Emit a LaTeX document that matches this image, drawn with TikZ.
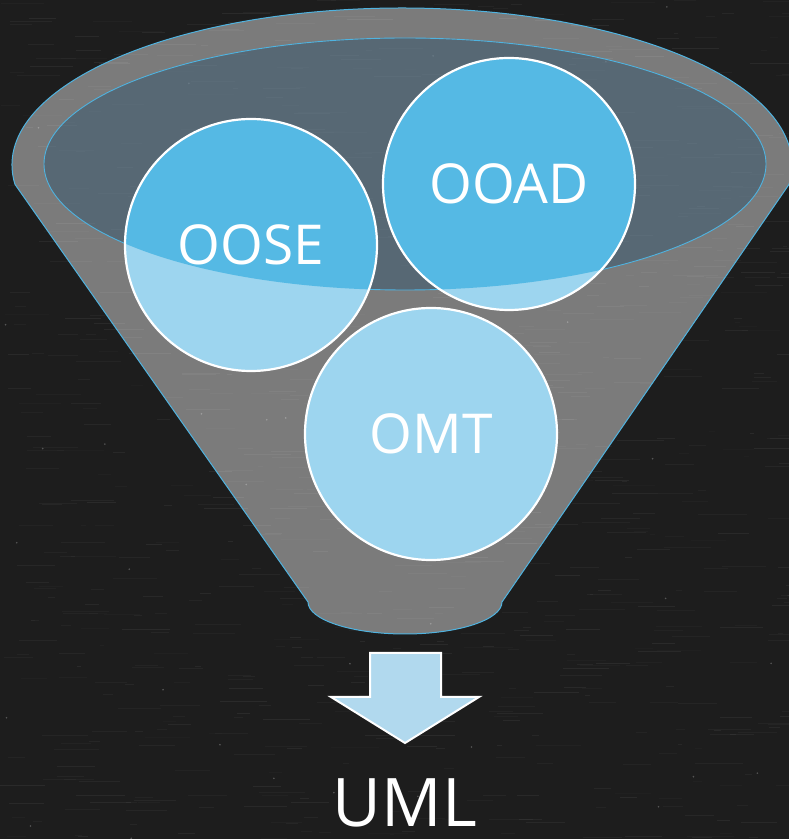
\documentclass[tikz,border=0pt]{standalone}
\usepackage{fontspec}
\setmainfont{Open Sans}
\definecolor{board}{HTML}{1D1D1D}
\definecolor{rim}{HTML}{4FB3E0}
\definecolor{mouth}{HTML}{35576F}
\definecolor{balllight}{HTML}{9DD5EF}
\definecolor{balldeep}{HTML}{55B9E4}
\definecolor{arrowfill}{HTML}{B1D9EE}
\begin{document}
\begin{tikzpicture}[x=1pt,y=1pt,
  funnelbody/.style={fill=white, fill opacity=0.42, draw=rim, draw opacity=1, line width=1pt},
  mouthfill/.style={fill=mouth, fill opacity=0.5, draw=rim, draw opacity=1, line width=0.9pt},
  ball/.style={circle, minimum size=252pt, inner sep=0pt, draw=white, line width=2.2pt,
    text=white, font=\fontsize{55}{60}\selectfont},
  outarrow/.style={fill=arrowfill, draw=white, line width=2pt, line join=miter},
  result/.style={text=white, font=\fontsize{67}{70}\selectfont, inner sep=0pt}]
\useasboundingbox (0,0) rectangle (789,839);

% chalkboard background with fine horizontal grain
\fill[board] (0,0) rectangle (789,839);
\pgfmathsetseed{11}
\foreach \k in {1,...,900}{
  \pgfmathsetmacro\xa{rnd*789}
  \pgfmathsetmacro\ya{rnd*839}
  \pgfmathsetmacro\len{4+rnd*45}
  \pgfmathsetmacro\op{0.015+rnd*0.045}
  \draw[white, opacity=\op, line width=0.9pt] (\xa,\ya) -- ++(\len,0);
}
\foreach \k in {1,...,40}{
  \pgfmathsetmacro\xa{rnd*789}
  \pgfmathsetmacro\ya{rnd*839}
  \fill[white, opacity=0.25] (\xa,\ya) circle[radius=0.9];
}

% funnel body
\path[funnelbody] (15,654.6)
  arc[start angle=187.1, end angle=-7.1, x radius=390, y radius=157]
  -- (502,237)
  arc[start angle=0, end angle=-180, x radius=97, y radius=32]
  -- cycle;

% funnel mouth
\path[mouthfill] (405,675) ellipse [x radius=361, y radius=126];

% ball fills: light outside the mouth, deeper inside it
\fill[balllight] (251,594) circle[radius=126];
\fill[balllight] (509,655) circle[radius=126];
\fill[balllight] (431,405) circle[radius=126];
\begin{scope}
  \clip (405,675) ellipse [x radius=361, y radius=126];
  \fill[balldeep] (251,594) circle[radius=126];
  \fill[balldeep] (509,655) circle[radius=126];
  \fill[balldeep] (431,405) circle[radius=126];
\end{scope}

% balls with labels
\node[ball] (oose) at (251,594) {OOSE};
\node[ball] (ooad) at (509,655) {OOAD};
\node[ball] (omt)  at (431,405) {OMT};

% output arrow and result
\path[outarrow] (370,186) -- (441,186) -- (441,142) -- (479,142) -- (405,96)
  -- (331,142) -- (370,142) -- cycle;
\node[result] (uml) at (405,36) {UML};
\end{tikzpicture}
\end{document}
